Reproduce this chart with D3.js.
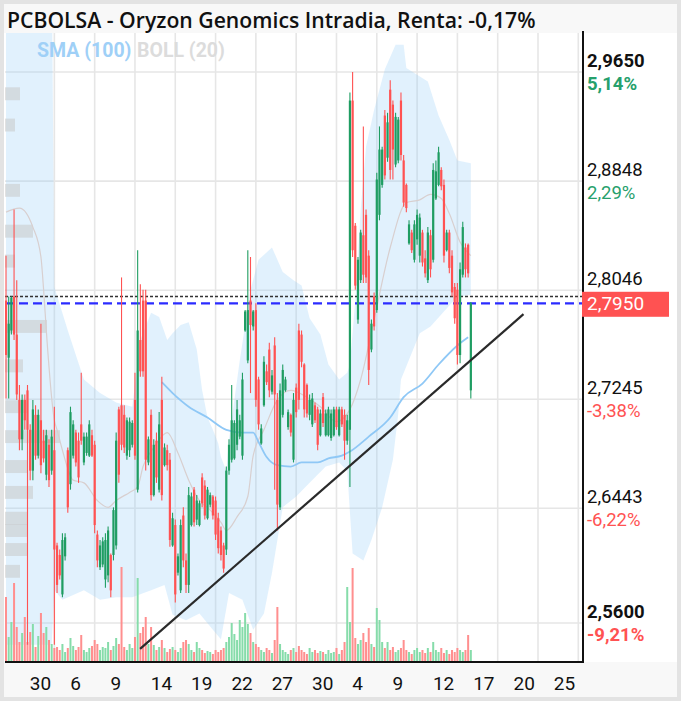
<!DOCTYPE html>
<html><head><meta charset="utf-8">
<script src="https://cdn.jsdelivr.net/npm/d3@7"></script>
<style>
html,body{margin:0;padding:0;background:#e3e3e3;}
svg{display:block;font-family:Roboto,"Noto Sans",sans-serif;}
</style></head><body>
<svg id="c" width="681" height="701"></svg>
<script>
// ---------- DATA ----------
const titleText = "PCBOLSA - Oryzon Genomics Intradia, Renta: -0,17%";
const opens = [
2.797,2.755,2.775,2.800,2.772,2.724,2.695,2.724,2.731,2.702,
2.672,2.713,2.683,2.709,2.694,2.669,2.691,2.672,2.687,2.617,
2.610,2.581,2.609,2.687,2.662,2.683,2.700,2.694,2.706,2.678,
2.685,2.683,2.698,2.691,2.625,2.601,2.603,2.592,2.595,2.610,
2.610,2.617,2.717,2.720,2.713,2.683,2.687,2.691,2.724,2.658,
2.768,2.797,2.797,2.678,2.713,2.654,2.694,2.658,2.724,2.676,
2.687,2.680,2.617,2.632,2.597,2.584,2.639,2.606,2.588,2.632,
2.658,2.636,2.632,2.667,2.661,2.637,2.647,2.653,2.650,2.637,
2.628,2.617,2.614,2.672,2.680,2.681,2.691,2.697,2.683,2.775,
2.753,2.797,2.778,2.790,2.739,2.692,2.720,2.745,2.761,2.730,
2.764,2.724,2.645,2.713,2.731,2.704,2.713,2.680,2.733,2.775,
2.772,2.750,2.735,2.713,2.706,2.720,2.717,2.698,2.726,2.698,
2.698,2.696,2.698,2.717,2.698,2.717,2.713,2.694,2.702,2.944,
2.852,2.783,2.812,2.845,2.860,2.830,2.761,2.800,2.790,2.860,
2.882,2.933,2.902,2.952,2.941,2.897,2.900,2.944,2.900,2.882,
2.839,2.847,2.827,2.842,2.830,2.847,2.828,2.812,2.845,2.827,
2.872,2.882,2.893,2.882,2.834,2.847,2.830,2.807,2.805,2.757,
2.816,2.836,2.838,2.731];
const highs = [
2.830,2.800,2.800,2.864,2.812,2.735,2.728,2.728,2.735,2.706,
2.724,2.720,2.717,2.780,2.702,2.702,2.695,2.702,2.719,2.619,
2.614,2.626,2.626,2.689,2.719,2.709,2.702,2.700,2.744,2.700,
2.700,2.709,2.702,2.694,2.628,2.621,2.623,2.626,2.631,2.611,
2.645,2.700,2.719,2.814,2.720,2.711,2.711,2.709,2.744,2.834,
2.809,2.805,2.805,2.697,2.717,2.695,2.700,2.715,2.741,2.692,
2.691,2.685,2.641,2.636,2.611,2.636,2.645,2.611,2.660,2.656,
2.660,2.654,2.650,2.670,2.665,2.660,2.656,2.654,2.653,2.641,
2.631,2.619,2.675,2.695,2.735,2.709,2.724,2.713,2.744,2.790,
2.834,2.829,2.790,2.795,2.741,2.706,2.756,2.750,2.766,2.746,
2.770,2.729,2.736,2.750,2.741,2.717,2.714,2.729,2.736,2.780,
2.775,2.751,2.736,2.728,2.729,2.722,2.719,2.717,2.729,2.717,
2.719,2.717,2.719,2.719,2.719,2.719,2.717,2.713,2.950,2.965,
2.854,2.829,2.849,2.925,2.864,2.834,2.783,2.803,2.891,2.925,
2.910,2.937,2.935,2.959,2.944,2.935,2.932,2.950,2.904,2.883,
2.856,2.849,2.856,2.864,2.861,2.849,2.834,2.851,2.849,2.898,
2.900,2.910,2.895,2.886,2.849,2.849,2.834,2.810,2.810,2.825,
2.855,2.839,2.839,2.796];
const lows = [
2.725,2.725,2.772,2.768,2.724,2.687,2.687,2.702,2.544,2.665,
2.665,2.680,2.681,2.670,2.678,2.665,2.660,2.669,2.544,2.582,
2.592,2.579,2.606,2.641,2.658,2.681,2.675,2.663,2.691,2.676,
2.683,2.682,2.682,2.626,2.601,2.599,2.601,2.586,2.590,2.579,
2.606,2.614,2.663,2.687,2.685,2.680,2.682,2.689,2.680,2.656,
2.741,2.741,2.672,2.676,2.650,2.653,2.663,2.656,2.650,2.675,
2.672,2.616,2.616,2.575,2.595,2.582,2.601,2.582,2.582,2.631,
2.631,2.632,2.631,2.645,2.636,2.636,2.645,2.636,2.621,2.611,
2.606,2.597,2.610,2.669,2.678,2.680,2.687,2.695,2.680,2.774,
2.751,2.729,2.775,2.719,2.702,2.691,2.719,2.735,2.726,2.728,
2.658,2.628,2.643,2.711,2.730,2.702,2.697,2.678,2.711,2.717,
2.748,2.711,2.711,2.709,2.704,2.707,2.687,2.697,2.704,2.697,
2.697,2.694,2.697,2.702,2.697,2.704,2.680,2.691,2.660,2.829,
2.805,2.780,2.810,2.810,2.810,2.735,2.759,2.775,2.788,2.856,
2.880,2.886,2.899,2.886,2.886,2.895,2.898,2.900,2.866,2.862,
2.838,2.832,2.825,2.838,2.825,2.822,2.814,2.810,2.814,2.825,
2.871,2.881,2.878,2.825,2.833,2.817,2.800,2.780,2.750,2.751,
2.814,2.814,2.814,2.725];
const closes = [
2.757,2.780,2.799,2.772,2.728,2.695,2.724,2.709,2.702,2.672,
2.717,2.683,2.713,2.676,2.681,2.698,2.665,2.697,2.614,2.588,
2.595,2.621,2.623,2.645,2.715,2.706,2.678,2.667,2.694,2.697,
2.697,2.706,2.683,2.632,2.606,2.617,2.620,2.621,2.628,2.584,
2.643,2.694,2.669,2.691,2.689,2.709,2.708,2.707,2.683,2.775,
2.745,2.745,2.680,2.695,2.654,2.691,2.667,2.706,2.654,2.689,
2.676,2.621,2.637,2.581,2.609,2.632,2.606,2.588,2.654,2.653,
2.634,2.650,2.648,2.648,2.639,2.658,2.654,2.639,2.625,2.615,
2.610,2.600,2.672,2.691,2.709,2.707,2.717,2.709,2.739,2.789,
2.790,2.779,2.789,2.724,2.706,2.703,2.752,2.737,2.731,2.742,
2.728,2.647,2.731,2.746,2.739,2.715,2.700,2.724,2.715,2.724,
2.752,2.717,2.714,2.724,2.725,2.709,2.691,2.714,2.707,2.714,
2.717,2.714,2.717,2.704,2.717,2.706,2.694,2.709,2.944,2.834,
2.808,2.827,2.847,2.816,2.814,2.746,2.780,2.778,2.886,2.908,
2.908,2.889,2.928,2.893,2.908,2.932,2.930,2.904,2.869,2.865,
2.853,2.834,2.853,2.860,2.858,2.825,2.817,2.847,2.820,2.893,
2.892,2.906,2.881,2.830,2.847,2.821,2.803,2.784,2.757,2.820,
2.851,2.820,2.817,2.795];
const volumes = [
65,25,40,79,35,20,29,45,20,30,
38,15,26,49,29,35,22,18,14,15,
12,18,10,14,24,16,12,15,27,12,
10,14,16,22,18,12,15,14,20,12,
16,24,18,95,15,12,18,14,25,84,
29,35,45,18,35,17,12,15,22,14,
10,13,15,12,10,14,20,22,18,12,
10,20,14,12,9,11,10,8,12,10,
12,14,20,25,39,28,22,42,35,49,
38,29,20,18,15,12,10,14,12,9,
22,55,18,12,10,8,12,14,10,16,
12,10,8,14,10,12,9,11,10,8,
12,9,10,14,8,12,20,75,40,94,
24,18,22,29,20,34,18,15,54,42,
20,14,20,12,15,10,12,14,22,12,
10,8,12,14,10,12,9,14,10,20,
12,10,14,9,12,8,12,10,14,12,
10,12,27,12];
// Bollinger (20) upper / lower / middle, SMA(100): [candle index, price]
const bollUpperIdx = [0,17,18,23,29,35,41,47,50,54,57,60,62,65,68,71,73,75,77,79,80,82,83,87,91,94,99,103,107,110,113,117,120,124,127,128,130,132,134,137,141,145,148,149,157,161,165,168,173];
const bollUpper    = [3.05,3.05,2.807,2.775,2.739,2.729,2.722,2.719,2.768,2.788,2.785,2.768,2.773,2.779,2.781,2.761,2.731,2.711,2.702,2.692,2.682,2.672,2.695,2.753,2.805,2.827,2.836,2.818,2.812,2.808,2.784,2.772,2.750,2.739,2.744,2.750,2.797,2.864,2.910,2.937,2.967,2.985,2.985,2.968,2.958,2.933,2.915,2.900,2.898];
const bollLowerIdx = [0,17,18,21,29,35,41,47,54,59,62,67,72,77,80,83,88,92,96,99,103,108,113,119,124,127,129,133,136,140,144,146,147,154,158,168,173];
const bollLower    = [2.544,2.544,2.584,2.577,2.584,2.577,2.579,2.579,2.584,2.588,2.566,2.562,2.567,2.555,2.548,2.582,2.577,2.555,2.567,2.597,2.645,2.653,2.663,2.675,2.678,2.672,2.611,2.606,2.621,2.645,2.680,2.714,2.739,2.773,2.778,2.800,2.801];
const bollMidIdx = [0,5,10,13,14,15,18,19,21,25,29,34,38,41,46,49,51,55,60,64,68,72,76,80,82,86,90,92,96,101,106,112,117,123,128,132,137,143,149,154,158,162,165,169,173];
const bollMid    = [2.862,2.865,2.851,2.829,2.805,2.775,2.709,2.702,2.687,2.665,2.663,2.650,2.645,2.650,2.656,2.660,2.675,2.689,2.700,2.685,2.665,2.650,2.643,2.634,2.628,2.638,2.653,2.683,2.702,2.724,2.731,2.726,2.719,2.708,2.717,2.739,2.783,2.836,2.869,2.871,2.875,2.872,2.861,2.840,2.830];
const smaIdx = [58,62,68,75,82,88,92,94,97,101,106,110,116,120,125,128,135,143,148,155,161,168,172];
const smaVal = [2.737,2.729,2.719,2.711,2.702,2.700,2.700,2.693,2.682,2.676,2.675,2.678,2.678,2.681,2.683,2.686,2.697,2.711,2.726,2.736,2.750,2.764,2.770];
// volume profile (price level, volume)
const profPrice = [2.949,2.926,2.878,2.848,2.826,2.778,2.749,2.719,2.697,2.675,2.656,2.637,2.628,2.614,2.598];
const profVol   = [15,10,15,28,10,42,18,22,55,22,28,22,22,22,15];
const profBin = 0.0095;
// trend line
const trendIdx = [49.9,192.6];
const trendPrice = [2.541,2.787];
const lastPrice = 2.795, prevClose = 2.800;
const yTicks = [2.9650,2.8848,2.8046,2.7245,2.6443,2.5600];
const yTickLabels = ["2,9650","2,8848","2,8046","2,7245","2,6443","2,5600"];
const yPctLabels = ["5,14%","2,29%","","-3,38%","-6,22%","-9,21%"];
const yBold = [true,false,false,false,false,true];
const xGridSlots = [18,33,48,63,78,93,108,123,138,153,168,183,198,213];
const xLabels = ["30","6","9","14","19","22","27","30","4","9","12","17","20","25"];

// ---------- DRAW ----------
const svg = d3.select("#c");
const X0=5, X1=583, Y0=33, Y1=662;
const x = d3.scaleLinear().domain([0,213]).range([6,578.3]);
const y = d3.scaleLinear().domain([2.56,2.965]).range([623,72]);
const yv = d3.scaleLinear().domain([0,94]).range([662,568]);
const xp = d3.scaleLinear().domain([0,55]).range([5,60]);
const GREEN="#1f9d62", RED="#ff5252";

svg.append("rect").attr("width",681).attr("height",701).attr("fill","#e3e3e3");
svg.append("rect").attr("x",4).attr("y",4).attr("width",673).attr("height",693).attr("fill","#f8f8f8");
svg.append("rect").attr("x",4).attr("y",Y0).attr("width",673).attr("height",Y1-Y0).attr("fill","#ffffff");

svg.append("clipPath").attr("id","clip").append("rect").attr("x",X0).attr("y",Y0).attr("width",X1-X0).attr("height",Y1-Y0);
const g = svg.append("g").attr("clip-path","url(#clip)");

// grid
g.selectAll(".vg").data(xGridSlots).join("line")
 .attr("x1",d=>x(d)).attr("x2",d=>x(d)).attr("y1",Y0).attr("y2",Y1)
 .attr("stroke","#e6e6e6").attr("stroke-width",1.6);
g.selectAll(".hg").data(yTicks).join("line")
 .attr("x1",X0).attr("x2",X1).attr("y1",d=>y(d)).attr("y2",d=>y(d))
 .attr("stroke","#e6e6e6").attr("stroke-width",1.6);

// bollinger band
const upPts = bollUpperIdx.map((d,i)=>[x(d),y(bollUpper[i])]);
const loPts = bollLowerIdx.map((d,i)=>[x(d),y(bollLower[i])]).reverse();
const ln = d3.line();
g.append("path").attr("d", ln(upPts.concat(loPts))+"Z")
 .attr("fill","rgb(144,202,249)").attr("fill-opacity",0.27);

// volume profile
g.selectAll(".vp").data(profPrice).join("rect")
 .attr("x",X0).attr("y",d=>y(d+profBin/2)).attr("height",d=>y(d-profBin/2)-y(d+profBin/2))
 .attr("width",(d,i)=>xp(profVol[i])-X0).attr("fill","#c8c8c8").attr("fill-opacity",0.55);

// boll middle + sma
g.append("path").attr("d", d3.line().curve(d3.curveMonotoneX)(bollMidIdx.map((d,i)=>[x(d),y(bollMid[i])])))
 .attr("fill","none").attr("stroke","#d8cfcf").attr("stroke-width",1.2);
g.append("path").attr("d", d3.line().curve(d3.curveMonotoneX)(smaIdx.map((d,i)=>[x(d),y(smaVal[i])])))
 .attr("fill","none").attr("stroke","#8fc8f6").attr("stroke-width",1.8);

// volume
g.selectAll(".vol").data(volumes).join("rect")
 .attr("x",(d,i)=>x(i)-1).attr("width",2)
 .attr("y",d=>yv(d)).attr("height",d=>Y1-yv(d))
 .attr("fill",(d,i)=>closes[i]>=opens[i]?"#86dcaa":"#ff8f8f");

// prev close & last price lines
g.append("line").attr("x1",X0).attr("x2",X1).attr("y1",y(prevClose)).attr("y2",y(prevClose))
 .attr("stroke","#333").attr("stroke-width",1.5).attr("stroke-dasharray","3,2");
g.append("line").attr("x1",X0).attr("x2",X1).attr("y1",y(lastPrice)).attr("y2",y(lastPrice))
 .attr("stroke","#2b2bff").attr("stroke-width",2.2).attr("stroke-dasharray","9,5");

// candles
const idx = d3.range(opens.length);
g.selectAll(".wick").data(idx).join("line")
 .attr("x1",i=>x(i)).attr("x2",i=>x(i)).attr("y1",i=>y(highs[i])).attr("y2",i=>y(lows[i]))
 .attr("stroke",i=>closes[i]>=opens[i]?GREEN:RED).attr("stroke-width",1.1);
g.selectAll(".body").data(idx).join("rect")
 .attr("x",i=>x(i)-1.1).attr("width",2.2)
 .attr("y",i=>y(Math.max(opens[i],closes[i])))
 .attr("height",i=>Math.max(1,Math.abs(y(opens[i])-y(closes[i]))))
 .attr("fill",i=>closes[i]>=opens[i]?GREEN:RED);

// trend line
g.append("line").attr("x1",x(trendIdx[0])).attr("y1",y(trendPrice[0]))
 .attr("x2",x(trendIdx[1])).attr("y2",y(trendPrice[1]))
 .attr("stroke","#2a2a2a").attr("stroke-width",2.2);

// axes lines
svg.append("line").attr("x1",X1).attr("x2",X1).attr("y1",31).attr("y2",Y1+1).attr("stroke","#111").attr("stroke-width",2);
svg.append("line").attr("x1",X0).attr("x2",X1+1).attr("y1",Y1).attr("y2",Y1).attr("stroke","#111").attr("stroke-width",2);

// y labels
const yl = svg.append("g").attr("font-size",18.5);
yTicks.forEach((t,i)=>{
  yl.append("text").attr("x",587).attr("y",y(t)-5).text(yTickLabels[i])
    .attr("fill","#111").attr("font-weight",yBold[i]?"bold":"normal");
  if(yPctLabels[i]) yl.append("text").attr("x",587).attr("y",y(t)+17.5).text(yPctLabels[i])
    .attr("fill",yPctLabels[i].startsWith("-")?RED:"#26a06c").attr("font-weight",yBold[i]?"bold":"normal");
});
// last price box
svg.append("rect").attr("x",582).attr("y",y(lastPrice)-11.5).attr("width",87).attr("height",25).attr("fill",RED);
svg.append("text").attr("x",587).attr("y",y(lastPrice)+7).attr("font-size",19).attr("fill","#fff")
 .text(d3.format(".4f")(lastPrice).replace(".",","));

// x labels
svg.append("g").selectAll("text").data(xGridSlots).join("text")
 .attr("x",d=>x(d)-24.5).attr("y",690).attr("font-size",19).attr("fill","#111")
 .text((d,i)=>xLabels[i]);

// legend
svg.append("text").attr("x",37).attr("y",57).attr("font-size",19.5).attr("font-weight","bold").attr("fill","#9fd0f7").text("SMA (100)");
svg.append("text").attr("x",137).attr("y",57).attr("font-size",19.5).attr("font-weight","bold").attr("fill","#dcdcdc").text("BOLL (20)");

// title
svg.append("text").attr("x",7).attr("y",28).attr("font-family","'Open Sans',Roboto,sans-serif")
 .attr("font-size",21.2).attr("font-weight",600).attr("fill","#111").text(titleText);
</script>
</body></html>
